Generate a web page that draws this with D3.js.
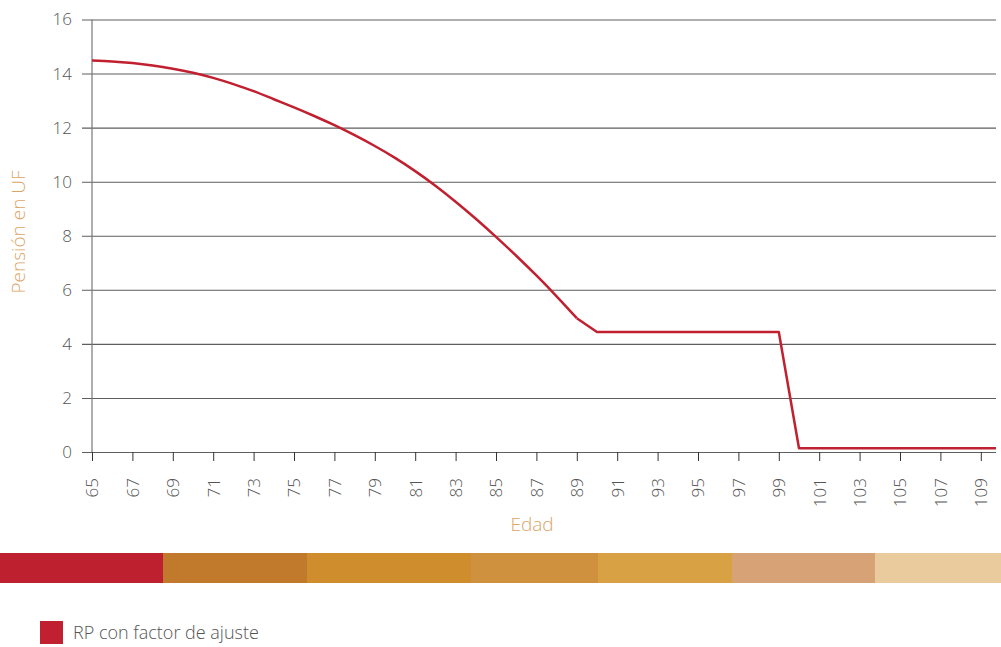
<!DOCTYPE html>
<html>
<head>
<meta charset="utf-8">
<script src="https://cdn.jsdelivr.net/npm/d3@7"></script>
<style>
  body { margin: 0; background: #fff; }
  svg text { font-family: "Open Sans", sans-serif; font-weight: 300; }
</style>
</head>
<body>
<div id="my_dataviz"></div>
<script>
// ages and pension (UF)
var ages = [65, 66, 67, 68, 69, 70, 71, 72, 73, 74, 75, 76, 77, 78, 79, 80, 81, 82, 83, 84, 85, 86, 87, 88, 89,
  90, 91, 92, 93, 94, 95, 96, 97, 98, 99, 100, 101, 102, 103, 104, 105, 106, 107, 108, 109, 110];
var pension = [14.48, 14.45, 14.39, 14.30, 14.18, 14.03, 13.84, 13.61, 13.35, 13.05, 12.75, 12.43, 12.09, 11.72, 11.32,
  10.88, 10.39, 9.85, 9.26, 8.63, 7.96, 7.26, 6.53, 5.76, 4.95,
  4.44, 4.44, 4.44, 4.44, 4.44, 4.44, 4.44, 4.44, 4.44, 4.44, 0.14, 0.14, 0.14, 0.14, 0.14, 0.14, 0.14, 0.14, 0.14, 0.14, 0.14];
var yTicks = [0, 2, 4, 6, 8, 10, 12, 14, 16];
var xTicks = d3.range(65, 110, 2);
var seriesName = "RP con factor de ajuste";

// decorative colour band under the chart
var bandColors = ["#BF202F", "#C17A2B", "#CF8D2D", "#CF913D", "#D8A144", "#D8A277", "#EACB9D"];
var bandEdges = [0, 163, 307, 471, 598, 732, 875, 1001];

var margin = {
    top: 19.5,
    left: 92
  },
  width = 904,
  height = 432.5;

var svg0 = d3.select("#my_dataviz")
  .append("svg")
  .attr("width", 1001)
  .attr("height", 647);

var svg = svg0.append("g")
  .attr("transform", "translate(" + margin.left + "," + margin.top + ")");

var x = d3.scaleLinear()
  .domain([65, 110])
  .range([0, 20.2 * 45]);
var y = d3.scaleLinear()
  .domain([0, 16])
  .range([height, 0]);

// clip so the plot stops at the right edge of the grid
svg.append("clipPath")
  .attr("id", "plotclip")
  .append("rect")
  .attr("x", -1).attr("y", -5)
  .attr("width", width + 1).attr("height", height + 10);

// horizontal grid + y labels
var yAxis = svg.append("g")
  .call(d3.axisLeft(y).tickValues(yTicks).tickSize(-width).tickPadding(20));
yAxis.select(".domain").remove();
yAxis.selectAll("line")
  .attr("x1", -10)
  .attr("stroke", "#5e5e5e")
  .attr("stroke-width", 1.1);
yAxis.selectAll("text")
  .attr("fill", "#555")
  .style("font-size", "17px");

// vertical axis line
svg.append("line")
  .attr("x1", 0).attr("x2", 0)
  .attr("y1", 0).attr("y2", height)
  .attr("stroke", "#777")
  .attr("stroke-width", 1.2);

// x ticks and rotated labels
var xAxis = svg.append("g")
  .attr("transform", "translate(0," + height + ")")
  .call(d3.axisBottom(x).tickValues(xTicks).tickSize(9).tickFormat(d3.format("d")));
xAxis.select(".domain").remove();
xAxis.selectAll("line")
  .attr("stroke", "#333");
xAxis.selectAll("text")
  .attr("fill", "#555")
  .style("font-size", "17px")
  .attr("text-anchor", "end")
  .attr("transform", "rotate(-90)")
  .attr("x", -26)
  .attr("y", 0)
  .attr("dy", "0.35em");

// the pension line: smooth decline up to 89, straight segments after
var points = ages.map(function(a, i) {
  return [a, pension[i]];
});
var kink = ages.indexOf(89);
var lineGen = d3.line()
  .x(function(d) {
    return x(d[0]);
  })
  .y(function(d) {
    return y(d[1]);
  });

[
  [points.slice(0, kink + 1), d3.curveNatural],
  [points.slice(kink), d3.curveLinear]
].forEach(function(part) {
  svg.append("path")
    .datum(part[0])
    .attr("clip-path", "url(#plotclip)")
    .attr("fill", "none")
    .attr("stroke", "#C0202F")
    .attr("stroke-width", 2.5)
    .attr("stroke-linejoin", "round")
    .attr("d", lineGen.curve(part[1]));
});

// axis titles
svg0.append("text")
  .attr("text-anchor", "middle")
  .attr("x", 532)
  .attr("y", 531)
  .attr("fill", "#DBA566")
  .style("font-size", "19px")
  .text("Edad");

svg0.append("text")
  .attr("text-anchor", "middle")
  .attr("transform", "translate(25,232)rotate(-90)")
  .attr("fill", "#DBA566")
  .style("font-size", "19px")
  .text("Pensión en UF");

// colour band
svg0.append("g")
  .selectAll("rect")
  .data(bandColors)
  .enter()
  .append("rect")
  .attr("x", function(d, i) {
    return bandEdges[i];
  })
  .attr("width", function(d, i) {
    return bandEdges[i + 1] - bandEdges[i];
  })
  .attr("y", 553)
  .attr("height", 30)
  .attr("fill", function(d) {
    return d;
  });

// legend
svg0.append("rect")
  .attr("x", 40).attr("y", 621)
  .attr("width", 23).attr("height", 23)
  .attr("fill", "#C0202F");
svg0.append("text")
  .attr("x", 73).attr("y", 639)
  .attr("fill", "#555")
  .style("font-size", "18px")
  .text(seriesName);
</script>
</body>
</html>
